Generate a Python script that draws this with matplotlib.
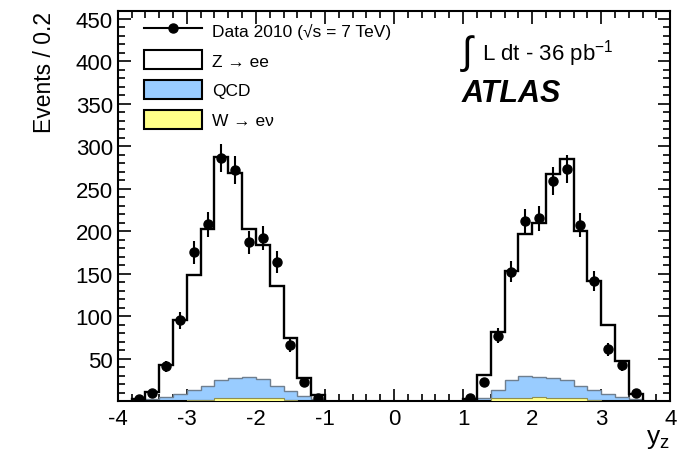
import numpy as np
import matplotlib
matplotlib.use("Agg")
import matplotlib.pyplot as plt
from matplotlib.ticker import MultipleLocator
from matplotlib.lines import Line2D
from matplotlib.patches import Patch

plt.rcParams['font.family'] = ['Liberation Sans', 'DejaVu Sans']
plt.rcParams['axes.unicode_minus'] = False
plt.rcParams['mathtext.fontset'] = 'custom'
plt.rcParams['mathtext.rm'] = 'Liberation Sans'
plt.rcParams['mathtext.it'] = 'Liberation Sans:italic'

# bin edges (0.2 wide), two separate rapidity regions
left_edges = np.round(np.arange(-3.8, -0.99, 0.2), 1)
right_edges = np.round(np.arange(1.0, 3.61, 0.2), 1)

# left region, y_z < 0
data_left = [3, 10, 41, 95, 175, 208, 286, 272, 187, 192, 164, 66, 23, 4]
mc_total_left = [3, 11, 42, 95, 148, 203, 287, 268, 203, 184, 136, 74, 27, 7]
qcd_w_left = [1, 3, 5, 8, 13, 18, 25, 27, 29, 26, 18, 12, 6, 3]
w_left = [0, 0, 0, 0, 1, 1, 4, 4, 4, 4, 4, 1, 0, 0]

# right region, y_z > 0
data_right = [4, 22, 77, 152, 212, 215, 259, 273, 207, 141, 61, 42, 10]
mc_total_right = [2, 31, 81, 153, 197, 210, 267, 285, 200, 141, 90, 47, 8]
qcd_w_right = [1, 4, 13, 25, 30, 29, 27, 25, 18, 13, 8, 5, 2]
w_right = [0, 0, 4, 4, 4, 5, 4, 4, 4, 1, 0, 0, 0]

qcd_color = '#99ccff'
w_color = '#ffff88'

fig = plt.figure(figsize=(6.77, 4.56), dpi=100)
ax = fig.add_axes([0.174, 0.118, 0.816, 0.856])

for edges, data, total, qcdw, w in [
        (left_edges, data_left, mc_total_left, qcd_w_left, w_left),
        (right_edges, data_right, mc_total_right, qcd_w_right, w_right)]:
    ax.stairs(qcdw, edges, fill=True, color=qcd_color, zorder=2)
    ax.stairs(qcdw, edges, color='#6f7f8f', lw=1.0, zorder=2.5)
    ax.stairs(w, edges, fill=True, color=w_color, zorder=3)
    ax.stairs(w, edges, color='#8f8f50', lw=0.8, zorder=3.5)
    ax.stairs(total, edges, color='black', lw=1.7, zorder=4)
    centers = (edges[:-1] + edges[1:]) / 2
    d = np.array(data, dtype=float)
    ax.errorbar(centers, d, yerr=np.sqrt(d), fmt='o', color='black',
                ms=6.5, elinewidth=1.5, capsize=0, zorder=5)

ax.set_xlim(-4, 4)
ax.set_ylim(0, 459)
ax.set_yticks(range(50, 451, 50))
ax.xaxis.set_major_locator(MultipleLocator(1))
ax.xaxis.set_minor_locator(MultipleLocator(0.2))
ax.yaxis.set_minor_locator(MultipleLocator(10))
ax.tick_params(which='both', direction='in', top=True, right=True,
               labelsize=16, width=1.2, colors='black')
ax.tick_params(which='major', length=9)
ax.tick_params(which='minor', length=5)
ax.tick_params(axis='x', pad=5)
for s in ax.spines.values():
    s.set_linewidth(1.5)

ax.set_ylabel('Events / 0.2', fontsize=16.5, loc='top', labelpad=14)
ax.set_xlabel(r'y$_\mathrm{z}$', fontsize=19, loc='right', labelpad=-2)

handles = [
    Line2D([], [], color='black', marker='o', ms=6.5, lw=1.5),
    Patch(facecolor='white', edgecolor='black', lw=1.5),
    Patch(facecolor=qcd_color, edgecolor='black', lw=1.5),
    Patch(facecolor=w_color, edgecolor='black', lw=1.5),
]
labels = ['Data 2010 (\u221As = 7 TeV)', 'Z \u2192 ee', 'QCD', 'W \u2192 e\u03bd']
ax.legend(handles, labels, loc='upper left', bbox_to_anchor=(0.02, 1.015),
          frameon=False, fontsize=12.5, handlelength=3.3, handleheight=1.3,
          labelspacing=0.62, handletextpad=0.6)

ax.text(0.622, 0.893, '\u222b', transform=ax.transAxes, fontsize=28,
        va='center', ha='left')
ax.text(0.66, 0.893, 'L dt - 36 pb$^{-1}$', transform=ax.transAxes,
        fontsize=16, va='center', ha='left')
ax.text(0.623, 0.79, 'ATLAS', transform=ax.transAxes, fontsize=22,
        fontweight='bold', fontstyle='italic', va='center', ha='left')

fig.savefig('out.png', dpi=100)
